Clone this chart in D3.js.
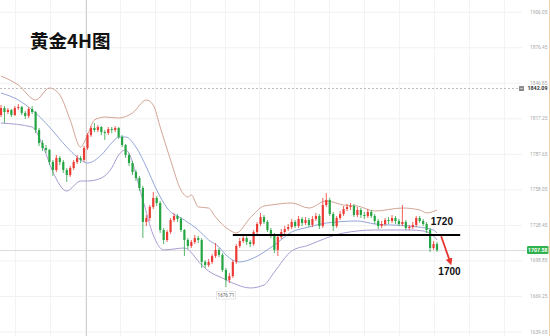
<!DOCTYPE html>
<html>
<head>
<meta charset="utf-8">
<script src="https://cdn.jsdelivr.net/npm/d3@7"></script>
<style>
  body { margin: 0; background: #fff; }
  svg { display: block; }
</style>
</head>
<body>
<div id="chart"></div>
<script>
var width = 550,
  height = 336;

// 4H candles
var opens = [1820.0,1825.8,1822.5,1824.2,1820.0,1825.8,1826.7,1821.7,1819.2,1825.0,
  1822.5,1807.5,1796.7,1792.5,1790.9,1780.9,1774.2,1784.2,1780.9,1774.2,
  1770.0,1775.9,1780.9,1784.2,1782.5,1792.5,1803.3,1809.2,1807.5,1810.0,
  1805.8,1805.0,1808.3,1807.5,1809.2,1801.7,1795.0,1786.7,1780.0,1772.5,
  1767.5,1759.2,1730.9,1734.2,1743.4,1750.9,1746.7,1724.2,1715.9,1722.5,
  1732.5,1735.9,1733.4,1724.2,1715.9,1710.9,1714.2,1717.5,1715.9,1697.6,
  1695.0,1697.6,1702.5,1707.6,1703.4,1690.9,1682.5,1685.9,1697.6,1710.9,
  1715.0,1717.5,1714.2,1712.5,1722.5,1729.2,1735.0,1730.9,1724.2,1720.0,
  1707.6,1718.4,1722.5,1725.0,1726.7,1730.9,1727.5,1733.4,1730.0,1732.5,
  1728.4,1733.4,1735.9,1727.5,1745.0,1749.2,1737.5,1727.5,1734.2,1737.5,
  1741.7,1743.4,1744.2,1736.7,1740.9,1736.7,1735.9,1739.2,1735.9,1731.7,
  1727.5,1729.2,1732.5,1731.7,1734.2,1731.7,1729.2,1730.9,1725.9,1726.7,
  1728.4,1734.2,1731.7,1729.2,1724.2,1709.2,1712.5];

var closes = [1825.8,1822.5,1824.2,1820.0,1825.8,1826.7,1821.7,1819.2,1825.0,1822.5,
  1807.5,1796.7,1792.5,1790.9,1780.9,1774.2,1784.2,1780.9,1774.2,1770.0,
  1775.9,1780.9,1784.2,1782.5,1792.5,1803.3,1809.2,1807.5,1810.0,1805.8,
  1805.0,1808.3,1807.5,1809.2,1801.7,1795.0,1786.7,1780.0,1772.5,1767.5,
  1759.2,1730.9,1734.2,1743.4,1750.9,1746.7,1724.2,1715.9,1722.5,1732.5,
  1735.9,1733.4,1724.2,1715.9,1710.9,1714.2,1717.5,1715.9,1697.6,1695.0,
  1697.6,1702.5,1707.6,1703.4,1690.9,1682.5,1685.9,1697.6,1710.9,1715.0,
  1717.5,1714.2,1712.5,1722.5,1729.2,1735.0,1730.9,1724.2,1720.0,1707.6,
  1718.4,1722.5,1725.0,1726.7,1730.9,1727.5,1733.4,1730.0,1732.5,1728.4,
  1733.4,1735.9,1727.5,1745.0,1749.2,1737.5,1727.5,1734.2,1737.5,1741.7,
  1743.4,1744.2,1736.7,1740.9,1736.7,1735.9,1739.2,1735.9,1731.7,1727.5,
  1729.2,1732.5,1731.7,1734.2,1731.7,1729.2,1730.9,1725.9,1726.7,1728.4,
  1734.2,1731.7,1729.2,1724.2,1709.2,1712.5,1707.58];

var highs = [1828.3,1827.5,1825.8,1825.0,1827.5,1829.2,1827.5,1823.3,1826.7,1827.5,
  1823.3,1809.2,1799.2,1795.0,1791.7,1782.5,1786.7,1785.9,1782.5,1775.9,
  1777.5,1782.5,1786.7,1785.9,1794.2,1805.0,1810.8,1813.3,1811.7,1810.8,
  1807.5,1810.0,1810.0,1810.8,1810.0,1803.3,1795.8,1788.3,1781.7,1774.2,
  1769.2,1760.9,1736.7,1745.0,1755.9,1752.5,1748.4,1725.9,1724.2,1734.2,
  1738.4,1737.5,1735.0,1725.0,1717.5,1715.9,1720.0,1719.2,1717.5,1699.2,
  1700.0,1704.2,1713.4,1709.2,1705.0,1692.6,1688.4,1699.2,1712.5,1717.5,
  1720.0,1719.2,1715.9,1724.2,1730.9,1738.4,1736.7,1732.5,1725.9,1721.7,
  1720.0,1725.0,1727.5,1729.2,1733.4,1732.5,1735.9,1735.0,1735.0,1734.2,
  1735.9,1738.4,1737.5,1750.9,1755.0,1750.9,1739.2,1735.9,1740.0,1744.2,
  1745.9,1746.7,1745.9,1743.4,1742.5,1739.2,1741.7,1740.9,1737.5,1733.4,
  1731.7,1734.2,1735.0,1736.7,1735.9,1733.4,1745.0,1732.5,1728.4,1730.9,
  1735.9,1735.9,1733.4,1730.9,1725.9,1715.0,1714.2];

var lows = [1818.3,1813.3,1820.8,1818.3,1819.2,1824.2,1820.0,1816.7,1817.5,1820.8,
  1805.0,1794.2,1790.0,1788.3,1778.4,1769.2,1772.5,1778.4,1771.7,1764.2,
  1768.4,1774.2,1779.2,1780.0,1780.9,1790.9,1801.7,1805.8,1805.8,1803.3,
  1799.2,1803.3,1805.0,1805.8,1800.0,1793.3,1784.2,1777.5,1770.0,1765.0,
  1756.7,1717.5,1727.5,1731.7,1741.7,1744.2,1721.7,1712.5,1714.2,1720.9,
  1730.9,1730.9,1722.5,1702.5,1708.4,1709.2,1712.5,1713.4,1692.6,1692.6,
  1693.4,1695.9,1700.9,1701.7,1689.2,1676.71,1680.0,1684.2,1695.9,1709.2,
  1713.4,1711.7,1710.0,1710.9,1720.9,1727.5,1729.2,1722.5,1717.5,1705.0,
  1702.5,1716.7,1720.9,1723.4,1725.0,1725.9,1725.9,1727.5,1728.4,1726.7,
  1726.7,1731.7,1725.0,1725.9,1743.4,1735.9,1723.4,1725.9,1732.5,1735.9,
  1740.0,1740.9,1735.0,1735.0,1734.2,1733.4,1734.2,1734.2,1729.2,1725.0,
  1725.9,1727.5,1729.2,1730.0,1729.2,1727.5,1727.5,1724.2,1724.2,1725.0,
  1726.7,1730.0,1727.5,1721.7,1705.9,1707.6,1705.9];

// Bollinger bands, sampled [candle index, price]
var upperBand = [[0,1852.5],[5,1845.0],[10,1832.5],[14,1842.5],[17,1836.7],[20,1815.8],
  [23,1793.3],[25,1803.3],[27,1815.8],[30,1818.3],[34,1817.5],[38,1821.7],[42,1832.5],
  [44,1828.3],[46,1810.0],[49,1782.5],[52,1757.5],[54,1751.7],[55,1753.4],[57,1743.4],
  [60,1742.5],[62,1735.0],[66,1724.2],[68,1721.7],[72,1734.2],[76,1744.2],[78,1745.0],
  [84,1746.7],[89,1742.5],[94,1748.4],[99,1745.0],[103,1744.2],[108,1740.0],[116,1742.5],
  [121,1740.9],[123,1738.4],[126,1740.9]];
var middleBand = [[0,1838.3],[5,1832.5],[9,1824.2],[14,1810.0],[19,1793.3],[22,1785.0],
  [25,1780.0],[29,1786.7],[32,1796.7],[34,1801.7],[36,1801.7],[39,1793.3],[42,1776.7],
  [45,1757.5],[48,1742.5],[53,1732.5],[57,1724.2],[60,1715.9],[63,1710.0],[65,1703.4],
  [69,1697.6],[73,1700.9],[79,1711.7],[84,1722.5],[89,1726.7],[94,1730.0],[103,1731.7],
  [108,1729.2],[118,1727.5],[125,1724.2],[126,1721.7]];
var lowerBand = [[0,1813.3],[9,1810.0],[12,1795.0],[15,1772.5],[19,1756.7],[23,1765.0],
  [25,1765.0],[29,1767.5],[32,1775.9],[34,1786.7],[36,1790.9],[41,1749.2],[44,1720.0],
  [47,1707.6],[53,1709.2],[58,1695.0],[60,1690.0],[64,1684.2],[67,1680.0],[72,1675.9],
  [76,1678.4],[79,1689.2],[84,1706.7],[89,1711.7],[94,1717.5],[99,1721.7],[108,1724.2],
  [118,1724.2],[122,1723.4],[125,1719.2],[126,1715.9]];

var yTicks = [1906.05, 1876.45, 1846.85, 1817.25, 1787.65, 1758.05, 1728.45, 1698.85, 1669.25, 1639.65];

var title = "黄金4H图";
var crossIndex = 24.6, crossPrice = 1842.09;
var lastPrice = 1707.58;
var lowIndex = 65, lowPrice = 1676.71;
var levelPrice = 1720, levelFrom = 67, levelTo = 132.7;
var arrowFrom = [127.2, 1719], arrowTo = [129.8, 1697.6];
var targetPrice = 1700;

var up = "#ec3b35", down = "#26a544";

var x = d3.scaleLinear().domain([0, 126]).range([1, 437]);
var y = d3.scaleLinear().domain([1635.9, 1915.8]).range([height, 0]);

var svg = d3.select("#chart").append("svg")
  .attr("width", width)
  .attr("height", height);

svg.append("rect").attr("width", width).attr("height", height).attr("fill", "#fff");

// faint grid
svg.append("g").selectAll("line")
  .data(yTicks).enter().append("line")
  .attr("x1", 0).attr("x2", 522)
  .attr("y1", function(d) { return y(d) + 0.5; })
  .attr("y2", function(d) { return y(d) + 0.5; })
  .attr("stroke", "#f1f1f1");
svg.append("g").selectAll("line")
  .data(d3.range(4, 150, 10.1)).enter().append("line")
  .attr("x1", function(d) { return Math.round(x(d)) + 0.5; })
  .attr("x2", function(d) { return Math.round(x(d)) + 0.5; })
  .attr("y1", 0).attr("y2", height)
  .attr("stroke", "#f3f3f3");

// crosshair
svg.append("line")
  .attr("x1", Math.round(x(crossIndex)) + 0.5).attr("x2", Math.round(x(crossIndex)) + 0.5)
  .attr("y1", 0).attr("y2", height)
  .attr("stroke", "#cfcfcf");
svg.append("line")
  .attr("x1", 0).attr("x2", 518)
  .attr("y1", Math.round(y(crossPrice)) + 0.5).attr("y2", Math.round(y(crossPrice)) + 0.5)
  .attr("stroke", "#bdbdbd")
  .attr("stroke-dasharray", "2,2");

// last price line
svg.append("line")
  .attr("x1", 0).attr("x2", 526)
  .attr("y1", Math.round(y(lastPrice)) + 0.5).attr("y2", Math.round(y(lastPrice)) + 0.5)
  .attr("stroke", "#dcdcdc");

// bands
var band = d3.line()
  .x(function(d) { return x(d[0]); })
  .y(function(d) { return y(d[1]); })
  .curve(d3.curveMonotoneX);
svg.append("path").datum(upperBand).attr("d", band)
  .attr("fill", "none").attr("stroke", "#d3a496").attr("stroke-width", 1);
svg.append("path").datum(middleBand).attr("d", band)
  .attr("fill", "none").attr("stroke", "#94a6da").attr("stroke-width", 1);
svg.append("path").datum(lowerBand).attr("d", band)
  .attr("fill", "none").attr("stroke", "#ab9bd2").attr("stroke-width", 1);

// candles
var candles = svg.append("g").selectAll("g")
  .data(closes).enter().append("g");
candles.append("line")
  .attr("x1", function(d, i) { return x(i); })
  .attr("x2", function(d, i) { return x(i); })
  .attr("y1", function(d, i) { return y(highs[i]); })
  .attr("y2", function(d, i) { return y(lows[i]); })
  .attr("stroke", function(d, i) { return d >= opens[i] ? up : down; })
  .attr("stroke-width", 0.8);
candles.append("rect")
  .attr("x", function(d, i) { return x(i) - 1.1; })
  .attr("width", 2.2)
  .attr("y", function(d, i) { return y(Math.max(d, opens[i])); })
  .attr("height", function(d, i) { return Math.max(1, Math.abs(y(d) - y(opens[i]))); })
  .attr("fill", function(d, i) { return d >= opens[i] ? up : down; });

// low label
var lowG = svg.append("g")
  .attr("transform", "translate(" + x(lowIndex) + "," + (y(lowPrice) + 8) + ")");
lowG.append("rect")
  .attr("x", -9.5).attr("y", -3.5).attr("width", 19).attr("height", 7.5)
  .attr("fill", "#fff").attr("stroke", "#d8d8d8").attr("stroke-width", 0.6);
lowG.append("text")
  .attr("text-anchor", "middle").attr("dy", "0.35em")
  .style("font", "4.6px Roboto, sans-serif").attr("fill", "#555")
  .text(lowPrice.toFixed(2));

// support line 1720
svg.append("line")
  .attr("x1", x(levelFrom)).attr("x2", x(levelTo))
  .attr("y1", y(levelPrice)).attr("y2", y(levelPrice))
  .attr("stroke", "#000").attr("stroke-width", 2);

// arrow
svg.append("defs").append("marker")
  .attr("id", "head")
  .attr("viewBox", "0 0 10 10")
  .attr("refX", 5).attr("refY", 5)
  .attr("markerWidth", 7).attr("markerHeight", 7)
  .attr("markerUnits", "userSpaceOnUse")
  .attr("orient", "auto")
  .append("path").attr("d", "M0,0L10,5L0,10z").attr("fill", "#e8362e");
svg.append("line")
  .attr("x1", x(arrowFrom[0])).attr("y1", y(arrowFrom[1]))
  .attr("x2", x(arrowTo[0])).attr("y2", y(arrowTo[1]))
  .attr("stroke", "#e8362e").attr("stroke-width", 1.8)
  .attr("marker-end", "url(#head)");

svg.append("text")
  .attr("x", x(127.4)).attr("y", y(levelPrice) - 10)
  .attr("text-anchor", "middle")
  .style("font", "bold 10px 'Liberation Sans', Arial, sans-serif")
  .attr("fill", "#111")
  .text(String(levelPrice));
svg.append("text")
  .attr("x", x(129.6)).attr("y", y(targetPrice) + 15.5)
  .attr("text-anchor", "middle")
  .style("font", "bold 10px 'Liberation Sans', Arial, sans-serif")
  .attr("fill", "#111")
  .text(String(targetPrice));

// right price axis
var axis = d3.axisRight(y)
  .tickValues(yTicks)
  .tickSize(0)
  .tickPadding(0)
  .tickFormat(d3.format(".2f"));
var ag = svg.append("g")
  .attr("transform", "translate(530,0)")
  .call(axis);
ag.select(".domain").remove();
ag.selectAll("text")
  .style("font", "4.8px Roboto, sans-serif")
  .attr("fill", "#a8a8a8");

// crosshair price tag
var cy = y(crossPrice);
svg.append("rect")
  .attr("x", 519).attr("y", cy - 2.5).attr("width", 5).attr("height", 5)
  .attr("fill", "#8a8a8a").attr("rx", 0.6);
svg.append("line")
  .attr("x1", 520.3).attr("x2", 522.7).attr("y1", cy).attr("y2", cy)
  .attr("stroke", "#fff").attr("stroke-width", 0.6);
svg.append("text")
  .attr("x", 547.5).attr("y", cy).attr("dy", "0.35em")
  .attr("text-anchor", "end")
  .style("font", "bold 5.4px Roboto, sans-serif")
  .attr("fill", "#333")
  .text(crossPrice.toFixed(2));

// last price tag
var ly = y(lastPrice);
svg.append("rect")
  .attr("x", 527).attr("y", ly - 4).attr("width", 21.5).attr("height", 8)
  .attr("rx", 1.2)
  .attr("fill", "#2fb24d");
svg.append("text")
  .attr("x", 537.8).attr("y", ly).attr("dy", "0.35em")
  .attr("text-anchor", "middle")
  .style("font", "bold 5.2px Roboto, sans-serif")
  .attr("fill", "#fff")
  .text(lastPrice.toFixed(2));

// right edge
svg.append("line")
  .attr("x1", 549.5).attr("x2", 549.5).attr("y1", 0).attr("y2", height)
  .attr("stroke", "#f4cfae");

// title
svg.append("text")
  .attr("x", 30).attr("y", 47.5)
  .style("font", "bold 18.5px 'Noto Sans CJK SC', sans-serif")
  .attr("fill", "#111")
  .text(title);
</script>
</body>
</html>
